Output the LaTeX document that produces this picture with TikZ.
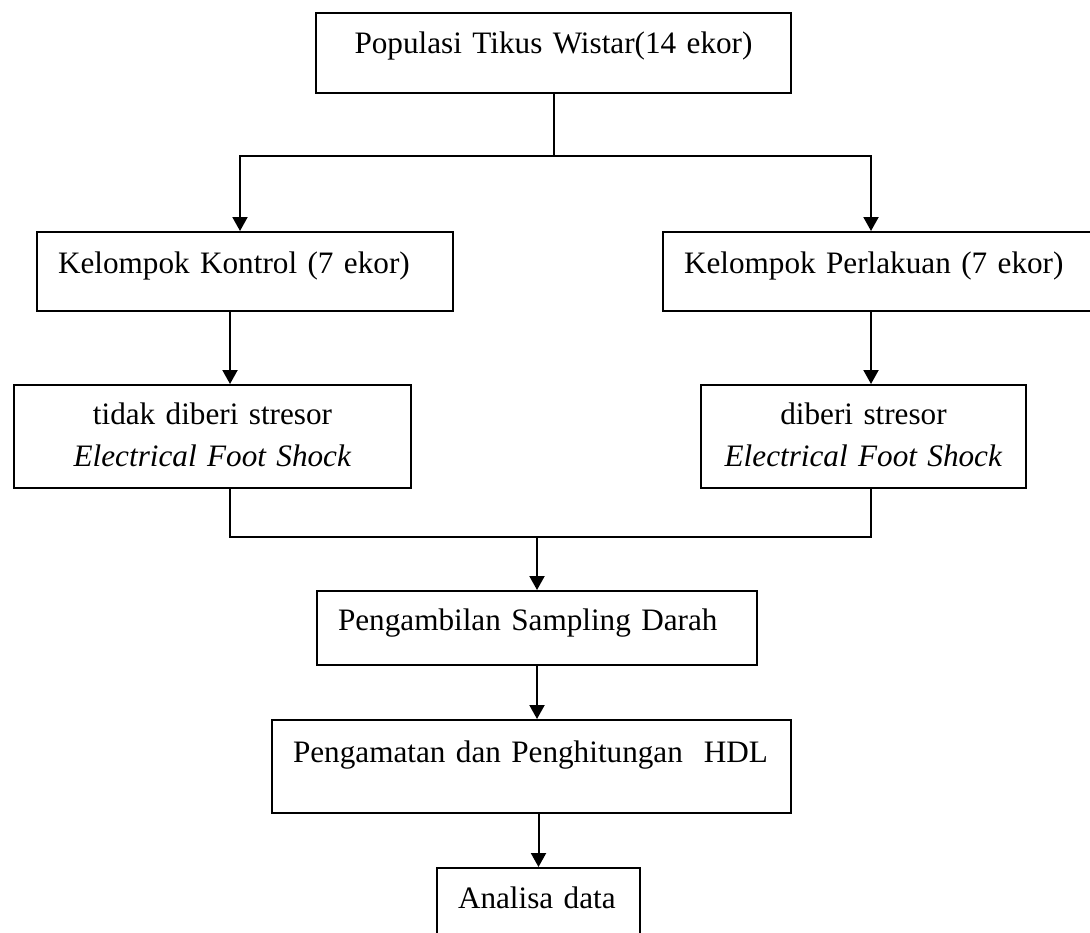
\documentclass[tikz,border=0pt]{standalone}
\usepackage{fontspec}
\setmainfont{Liberation Serif}
\usetikzlibrary{arrows.meta}

\begin{document}
\begin{tikzpicture}[x=0.5pt,y=-0.5pt,>={Triangle[length=7pt,width=7.5pt]},
  kotak/.style={draw,line width=1pt,anchor=north west,inner xsep=0pt,inner ysep=0pt,
    align=center,font=\fontsize{15.6}{21}\selectfont},
  kiri/.style={align=left,execute at begin node=\hspace*{10.5pt}},
  garis/.style={line width=1pt}]
  \useasboundingbox (0,0) rectangle (1090,932);
  \clip (0,0) rectangle (1090,932);
  % kotak-kotak
  \node[kotak,text width=237.5pt,text height=20pt,text depth=20pt] (populasi) at (315,12) {Populasi Tikus Wistar(14 ekor)};
  \node[kotak,kiri,text width=208pt,text height=20.5pt,text depth=19pt] (kontrol) at (36,231) {Kelompok Kontrol (7 ekor)};
  \node[kotak,kiri,text width=220pt,text height=20.5pt,text depth=19pt] (perlakuan) at (662,231) {Kelompok Perlakuan (7 ekor)};
  \node[kotak,text width=198.5pt,text height=19.5pt,text depth=32pt] (tidak) at (13,384) {tidak diberi stresor\\ \textit{Electrical Foot Shock}};
  \node[kotak,text width=162.5pt,text height=19.5pt,text depth=32pt] (diberi) at (700,384) {diberi stresor\\ \textit{Electrical Foot Shock}};
  \node[kotak,kiri,text width=220pt,text height=19.5pt,text depth=17.5pt] (sampling) at (316,590) {Pengambilan Sampling Darah};
  \node[kotak,kiri,text width=259.5pt,text height=21pt,text depth=25.5pt] (hdl) at (271,719) {Pengamatan dan Penghitungan\ \ HDL};
  \node[kotak,kiri,text width=101.5pt,text height=20pt,text depth=22pt] (analisa) at (436,867) {Analisa data};
  % titik cabang
  \coordinate (cabang) at (populasi.south |- 0,156);
  \coordinate (kiri) at (240,156);
  \coordinate (kanan) at (871,156);
  \coordinate (gabungkiri) at (230,537);
  \coordinate (gabungkanan) at (871,537);
  % garis dan panah
  \draw[garis] (populasi.south) -- (cabang);
  \draw[garis,->] (cabang) -- (kiri) -- (kiri |- kontrol.north);
  \draw[garis,->] (cabang) -- (kanan) -- (kanan |- perlakuan.north);
  \draw[garis,->] (gabungkiri |- kontrol.south) -- (gabungkiri |- tidak.north);
  \draw[garis,->] (gabungkanan |- perlakuan.south) -- (gabungkanan |- diberi.north);
  \draw[garis] (gabungkiri |- tidak.south) -- (gabungkiri) -- (gabungkanan) -- (gabungkanan |- diberi.south);
  \draw[garis,->] (sampling.north |- gabungkiri) -- (sampling.north);
  \draw[garis,->] (sampling.south) -- (sampling.south |- hdl.north);
  \draw[garis,->] (analisa.north |- hdl.south) -- (analisa.north);
\end{tikzpicture}
\end{document}
